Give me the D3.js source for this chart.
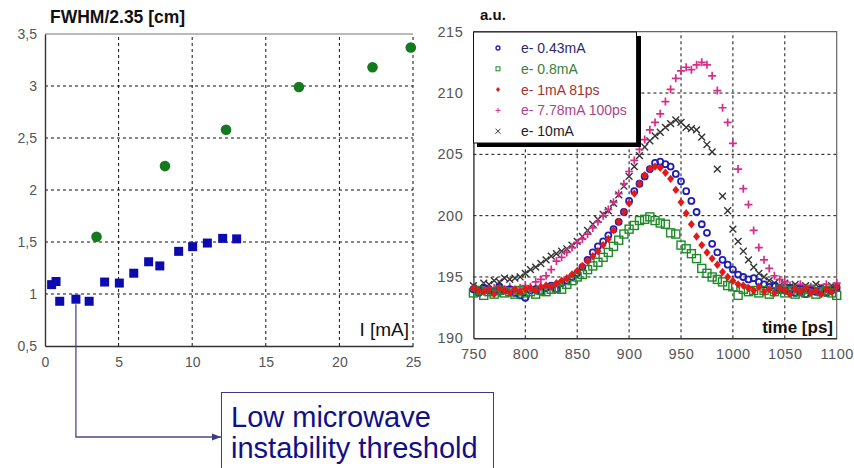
<!DOCTYPE html>
<html><head><meta charset="utf-8">
<script src="https://cdn.jsdelivr.net/npm/d3@7"></script>
<style>body{margin:0;background:#fff}svg{display:block}text{font-family:"Liberation Sans",Arial,sans-serif}</style>
</head><body><svg id="c" width="854" height="468"></svg>
<script>
// ---------- Left chart data ----------
const leftXTicks = [0, 5, 10, 15, 20, 25];
const leftYTicks = [0.5, 1, 1.5, 2, 2.5, 3, 3.5];
const leftYTickLabels = ["0,5", "1", "1,5", "2", "2,5", "3", "3,5"];
const greenCurrent = [3.5, 8.15, 12.3, 17.25, 22.25, 24.85];
const greenFwhm = [1.55, 2.23, 2.58, 2.99, 3.18, 3.37];
const blueCurrent = [0.45, 0.75, 1.0, 2.1, 3.0, 4.05, 5.05, 6.03, 7.04, 7.8, 9.08, 10.03, 11.03, 12.07, 13.02];
const blueFwhm = [1.09, 1.12, 0.93, 0.95, 0.93, 1.115, 1.105, 1.2, 1.31, 1.27, 1.41, 1.455, 1.49, 1.535, 1.53];
const thresholdIndex = 3;
const annotationLines = ["Low microwave", "instability threshold"];

// ---------- Right chart data ----------
const rightXTicks = [750, 800, 850, 900, 950, 1000, 1050, 1100];
const rightYTicks = [190, 195, 200, 205, 210, 215];
const time = [750,755,760,765,770,775,780,785,790,795,800,805,810,815,820,825,830,835,840,845,850,855,860,865,870,875,880,885,890,895,900,905,910,915,920,925,930,935,940,945,950,955,960,965,970,975,980,985,990,995,1000,1005,1010,1015,1020,1025,1030,1035,1040,1045,1050,1055,1060,1065,1070,1075,1080,1085,1090,1095,1100];
const seriesNames = ["e- 0.43mA", "e- 0.8mA", "e- 1mA 81ps", "e- 7.78mA 100ps", "e- 10mA"];
const s043 = [194.0,193.7,194.1,193.9,193.8,194.2,193.9,194.0,193.7,193.5,193.3,193.9,194.0,193.8,194.1,194.3,194.0,194.5,194.7,195.0,195.3,195.8,196.4,197.0,197.5,197.9,198.4,198.9,199.5,200.3,201.2,202.0,202.6,203.2,203.8,204.3,204.4,204.2,204.0,203.4,202.8,202.0,201.2,200.3,199.3,198.6,197.7,197.0,196.4,196.0,195.6,195.2,195.0,194.8,194.9,194.6,194.4,194.2,194.3,194.0,193.9,194.1,193.7,194.0,193.6,193.9,193.8,194.0,193.7,193.9,194.1];
const s08 = [193.7,193.9,193.5,193.8,193.6,193.9,193.7,193.8,193.6,193.9,193.7,193.8,193.6,193.9,193.8,194.0,194.1,194.0,194.4,194.7,195.0,195.2,195.6,195.9,196.2,196.6,197.0,197.5,198.0,198.5,198.9,199.2,199.6,199.7,199.9,199.6,199.4,199.3,198.6,198.5,197.6,197.3,196.9,196.5,195.7,195.3,195.0,194.8,194.6,194.3,194.2,193.5,194.0,193.8,193.9,193.7,193.9,193.6,193.8,194.0,193.7,193.9,193.6,193.8,193.7,194.0,193.6,193.8,193.9,193.7,193.5];
const s1 = [194.1,193.9,193.8,194.0,193.6,194.1,193.9,193.7,194.0,193.8,194.0,194.1,193.9,194.2,194.3,194.2,194.5,194.7,194.9,195.2,195.5,195.9,196.3,196.7,197.1,197.6,198.1,198.8,199.5,200.3,201.0,201.8,202.6,203.3,203.8,204.0,203.9,203.5,203.0,202.1,201.1,200.2,199.3,198.3,197.6,197.0,196.5,196.0,195.4,195.0,194.7,194.4,194.3,194.1,193.9,194.2,193.8,194.0,193.7,194.1,193.9,193.6,194.0,193.8,194.1,193.7,193.9,193.6,194.0,193.8,194.2];
const s778 = [194.0,193.8,194.2,193.9,194.1,193.7,194.0,194.2,193.9,194.1,194.3,194.2,194.6,194.8,195.1,195.6,196.3,196.6,197.0,197.4,197.8,198.1,198.5,199.0,199.5,200.0,200.5,201.1,201.8,202.6,203.6,204.5,205.4,206.2,207.0,207.6,208.3,209.3,210.3,211.2,211.8,212.1,211.9,212.3,212.5,212.3,211.4,210.2,208.8,207.6,205.9,203.8,202.2,200.9,198.8,197.4,196.4,195.7,195.1,194.8,194.6,194.3,194.0,194.4,193.9,194.2,193.8,194.1,194.4,193.9,194.5];
const s10 = [194.3,194.1,194.5,194.4,194.7,194.6,194.9,194.8,194.9,195.0,195.3,195.6,195.8,196.1,196.4,196.7,196.9,197.1,197.3,197.6,197.9,198.3,198.8,199.3,199.7,200.1,200.4,201.0,201.7,202.4,203.2,204.0,204.9,205.6,206.1,206.5,206.8,207.2,207.5,207.8,207.6,207.2,207.1,207.0,206.4,205.8,205.2,203.8,201.6,200.4,198.9,197.9,197.1,196.4,195.8,195.3,195.0,194.7,194.5,194.3,194.5,194.2,194.4,194.1,194.3,194.0,194.4,194.2,194.0,194.3,194.1];

const svg = d3.select("#c");
const gridDash = "3,3";

// ================= LEFT CHART =================
const L = {x0: 45, x1: 413, y0: 346, y1: 34};
const lx = d3.scaleLinear().domain([0, 25]).range([L.x0, L.x1]);
const ly = d3.scaleLinear().domain([0.5, 3.5]).range([L.y0, L.y1]);
const gl = svg.append("g");
gl.selectAll(".vg").data(leftXTicks.filter(d => d > 0)).enter().append("line")
  .attr("x1", d => lx(d)).attr("x2", d => lx(d)).attr("y1", L.y0).attr("y2", L.y1)
  .attr("stroke", "#111").attr("stroke-width", 1).attr("stroke-dasharray", gridDash);
gl.selectAll(".hg").data(leftYTicks.filter(d => d > 0.5 && d < 3.5)).enter().append("line")
  .attr("x1", L.x0).attr("x2", L.x1).attr("y1", d => ly(d)).attr("y2", d => ly(d))
  .attr("stroke", "#111").attr("stroke-width", 1).attr("stroke-dasharray", gridDash);
gl.append("line").attr("x1", L.x0).attr("x2", L.x1).attr("y1", L.y1).attr("y2", L.y1).attr("stroke", "#777").attr("stroke-width", 1.2);
const lxAxis = d3.axisBottom(lx).tickValues(leftXTicks).tickSize(0).tickPadding(11);
const lyAxis = d3.axisLeft(ly).tickValues(leftYTicks).tickSize(0).tickPadding(8)
  .tickFormat((d, i) => leftYTickLabels[i]);
const gax = gl.append("g").attr("transform", `translate(0,${L.y0})`).call(lxAxis);
const gay = gl.append("g").attr("transform", `translate(${L.x0},0)`).call(lyAxis);
[gax, gay].forEach(g => {
  g.select(".domain").attr("stroke", "#333").attr("stroke-width", 1.4);
  g.selectAll("text").attr("font-size", 14).attr("fill", "#555").attr("font-family", "Liberation Sans, Arial, sans-serif");
});
gl.append("text").attr("x", 50).attr("y", 23).attr("font-size", 17.5).attr("font-weight", "bold").attr("fill", "#111").text("FWHM/2.35 [cm]");
gl.append("text").attr("x", 409).attr("y", 336).attr("text-anchor", "end").attr("font-size", 19).attr("fill", "#111").text("I [mA]");

// annotation arrow + box
const ax = lx(blueCurrent[thresholdIndex]);
const ay = ly(blueFwhm[thresholdIndex]) + 5;
svg.append("defs").append("marker").attr("id", "arr").attr("viewBox", "0 0 10 10")
  .attr("refX", 10).attr("refY", 5).attr("markerWidth", 7).attr("markerHeight", 7).attr("orient", "auto")
  .append("path").attr("d", "M0,1 L10,5 L0,9 z").attr("fill", "#3a3a8a");
svg.append("path").attr("d", `M${ax},${ay} V437 H221`).attr("fill", "none")
  .attr("stroke", "#4a4a8e").attr("stroke-width", 1.3).attr("marker-end", "url(#arr)");
svg.append("rect").attr("x", 221.5).attr("y", 392.5).attr("width", 272).attr("height", 90)
  .attr("fill", "#fff").attr("stroke", "#3a3a8e").attr("stroke-width", 1);
svg.selectAll(".ann").data(annotationLines).enter().append("text")
  .attr("x", 231).attr("y", (d, i) => 427 + i * 31).attr("font-size", 29).attr("fill", "#10108a").text(d => d);

gl.selectAll(".gd").data(greenCurrent).enter().append("circle")
  .attr("cx", d => lx(d)).attr("cy", (d, i) => ly(greenFwhm[i])).attr("r", 5.3).attr("fill", "#137a1e");
gl.selectAll(".bs").data(blueCurrent).enter().append("rect")
  .attr("x", d => lx(d) - 4.5).attr("y", (d, i) => ly(blueFwhm[i]) - 4.5).attr("width", 9).attr("height", 9).attr("fill", "#0b0bb0");

// ================= RIGHT CHART =================
const R = {x0: 473.4, x1: 836.7, y0: 338.3, y1: 31.7};
const rx = d3.scaleLinear().domain([750, 1100]).range([R.x0, R.x1]);
const ry = d3.scaleLinear().domain([190, 215]).range([R.y0, R.y1]);
const gr = svg.append("g");
gr.selectAll(".vg").data(rightXTicks.filter(d => d > 750 && d < 1100)).enter().append("line")
  .attr("x1", d => rx(d)).attr("x2", d => rx(d)).attr("y1", R.y0).attr("y2", R.y1)
  .attr("stroke", "#111").attr("stroke-width", 1).attr("stroke-dasharray", gridDash);
gr.selectAll(".hg").data(rightYTicks.filter(d => d > 190 && d < 215)).enter().append("line")
  .attr("x1", R.x0).attr("x2", R.x1).attr("y1", d => ry(d)).attr("y2", d => ry(d))
  .attr("stroke", "#111").attr("stroke-width", 1).attr("stroke-dasharray", gridDash);
gr.append("path").attr("d", `M${R.x0},${R.y1} H${R.x1} V${R.y0}`).attr("fill", "none").attr("stroke", "#666").attr("stroke-width", 1.2);
const rxAxis = d3.axisBottom(rx).tickValues(rightXTicks).tickSize(0).tickPadding(10).tickFormat(d3.format("d"));
const ryAxis = d3.axisLeft(ry).tickValues(rightYTicks).tickSize(0).tickPadding(10).tickFormat(d3.format("d"));
const grx = gr.append("g").attr("transform", `translate(0,${R.y0})`).call(rxAxis);
const gry = gr.append("g").attr("transform", `translate(${R.x0},0)`).call(ryAxis);
[grx, gry].forEach(g => {
  g.select(".domain").attr("stroke", "#333").attr("stroke-width", 1.4);
  g.selectAll("text").attr("font-size", 14.5).attr("fill", "#555").attr("letter-spacing", 0.6).attr("font-family", "Liberation Sans, Arial, sans-serif");
});
gr.append("text").attr("x", 480).attr("y", 20).attr("font-size", 15).attr("font-weight", "bold").attr("fill", "#111").text("a.u.");
gr.append("text").attr("x", 833).attr("y", 333).attr("text-anchor", "end").attr("font-size", 17).attr("font-weight", "bold").attr("fill", "#111").text("time [ps]");

const seriesDefs = [
  {vals: s10, color: "#333", type: "x"},
  {vals: s778, color: "#d82c8c", type: "plus"},
  {vals: s043, color: "#1e1eb4", type: "circle"},
  {vals: s08, color: "#1f8a2a", type: "square"},
  {vals: s1, color: "#e41818", type: "diamond"}
];
const plotG = gr.append("g");
seriesDefs.forEach(s => {
  const g = plotG.append("g");
  const pts = time.map((t, i) => [rx(t), ry(s.vals[i])]);
  if (s.type === "circle") {
    g.selectAll("circle").data(pts).enter().append("circle").attr("cx", d => d[0]).attr("cy", d => d[1]).attr("r", 3)
      .attr("fill", "none").attr("stroke", s.color).attr("stroke-width", 1.8);
  } else if (s.type === "square") {
    g.selectAll("rect").data(pts).enter().append("rect").attr("x", d => d[0] - 4).attr("y", d => d[1] - 4).attr("width", 8).attr("height", 8)
      .attr("fill", "none").attr("stroke", s.color).attr("stroke-width", 1.4);
  } else if (s.type === "diamond") {
    g.selectAll("path").data(pts).enter().append("path").attr("d", d => `M${d[0]},${d[1]-4.2}L${d[0]+3.5},${d[1]}L${d[0]},${d[1]+4.2}L${d[0]-3.5},${d[1]}Z`)
      .attr("fill", s.color);
  } else if (s.type === "plus") {
    g.selectAll("path").data(pts).enter().append("path").attr("d", d => `M${d[0]-4},${d[1]}H${d[0]+4}M${d[0]},${d[1]-4}V${d[1]+4}`)
      .attr("stroke", s.color).attr("stroke-width", 1.7);
  } else {
    g.selectAll("path").data(pts).enter().append("path").attr("d", d => `M${d[0]-3.4},${d[1]-3.4}L${d[0]+3.4},${d[1]+3.4}M${d[0]-3.4},${d[1]+3.4}L${d[0]+3.4},${d[1]-3.4}`)
      .attr("stroke", s.color).attr("stroke-width", 1.4);
  }
});

// legend
const legColors = ["#2a2a6e", "#3a7f3a", "#a03434", "#a8448e", "#222"];
const legSym = ["circle", "square", "diamond", "plus", "x"];
const symColors = ["#1e1eb4", "#1f8a2a", "#e41818", "#d82c8c", "#333"];
const lg = svg.append("g");
lg.append("rect").attr("x", 477).attr("y", 36).attr("width", 164).attr("height", 111).attr("fill", "#000");
lg.append("rect").attr("x", 473.5).attr("y", 32).attr("width", 163).attr("height", 111).attr("fill", "#fff").attr("stroke", "#111").attr("stroke-width", 1);
seriesNames.forEach((n, i) => {
  const yy = 48 + i * 20.8, xx = 498;
  const t = legSym[i], c = symColors[i];
  if (t === "circle") lg.append("circle").attr("cx", xx).attr("cy", yy).attr("r", 2).attr("fill", "none").attr("stroke", c).attr("stroke-width", 1.3);
  else if (t === "square") lg.append("rect").attr("x", xx - 2).attr("y", yy - 2).attr("width", 4).attr("height", 4).attr("fill", "none").attr("stroke", c).attr("stroke-width", 1);
  else if (t === "diamond") lg.append("path").attr("d", `M${xx},${yy-2.5}L${xx+2},${yy}L${xx},${yy+2.5}L${xx-2},${yy}Z`).attr("fill", c);
  else if (t === "plus") lg.append("path").attr("d", `M${xx-2.5},${yy}H${xx+2.5}M${xx},${yy-2.5}V${yy+2.5}`).attr("stroke", c).attr("stroke-width", 1);
  else lg.append("path").attr("d", `M${xx-2.5},${yy-2.5}L${xx+2.5},${yy+2.5}M${xx-2.5},${yy+2.5}L${xx+2.5},${yy-2.5}`).attr("stroke", c).attr("stroke-width", 1);
  lg.append("text").attr("x", 521).attr("y", yy + 5).attr("font-size", 14).attr("fill", legColors[i]).text(n);
});
</script></body></html>
